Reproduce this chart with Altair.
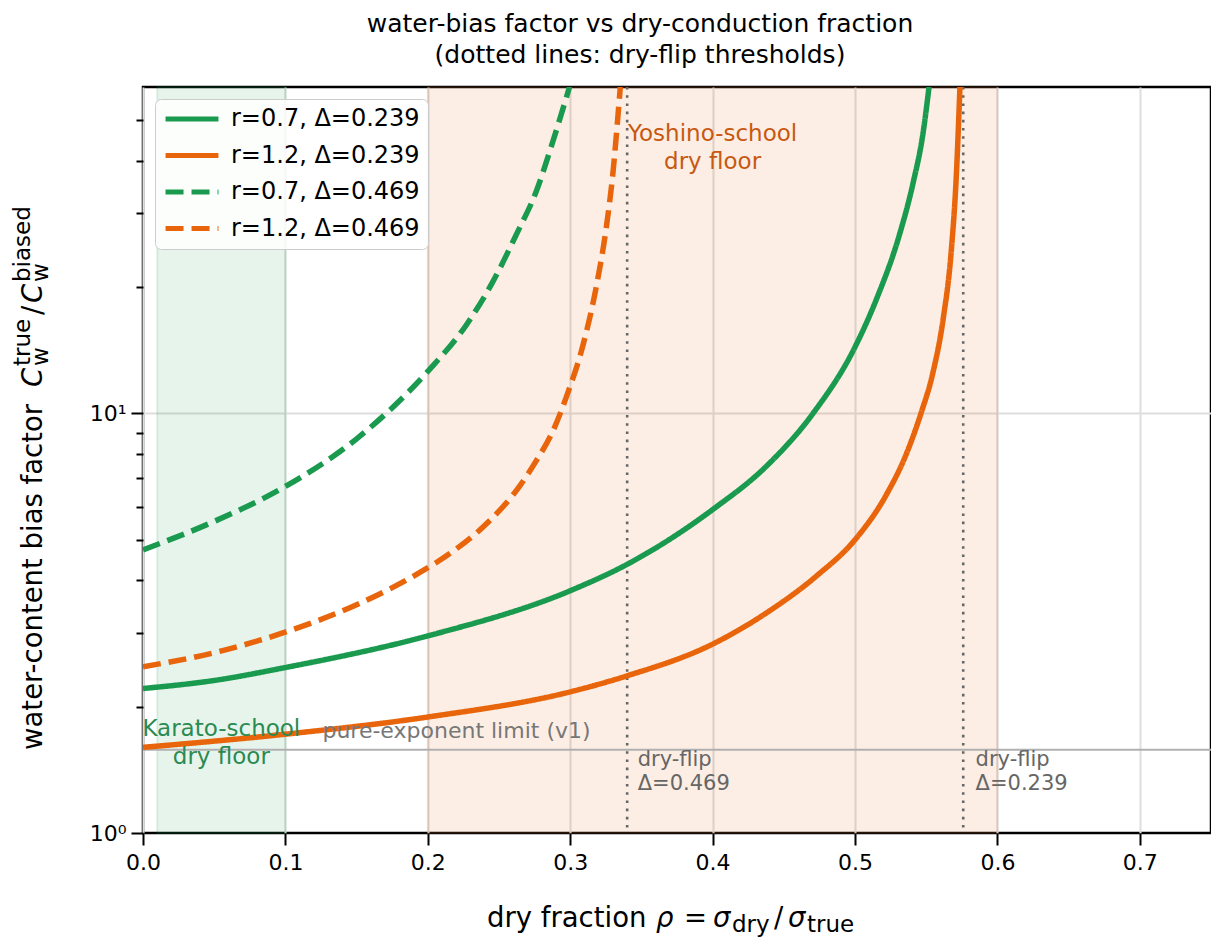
import altair as alt
import pandas as pd

FONT = "DejaVu Sans"
GREEN = "#1a9a4f"
ORANGE = "#e8650c"

# ---- curve data: dry fraction rho vs water-content bias factor ----
series_names = ["r=0.7, Δ=0.239", "r=1.2, Δ=0.239", "r=0.7, Δ=0.469", "r=1.2, Δ=0.469"]

rho_g_239 = [0.0, 0.05, 0.10, 0.20, 0.30, 0.34, 0.40, 0.438, 0.4705, 0.50, 0.515,
             0.5314, 0.5406, 0.5477, 0.552]
val_g_239 = [2.21, 2.31, 2.48, 2.95, 3.78, 4.37, 5.9, 7.5, 10.0, 14.4, 18.7,
             26.8, 35.2, 46.4, 60.0]

rho_o_239 = [0.0, 0.10, 0.20, 0.30, 0.34, 0.40, 0.438, 0.473, 0.50, 0.522, 0.536,
             0.5463, 0.5547, 0.5618, 0.5676, 0.5711, 0.5737]
val_o_239 = [1.60, 1.72, 1.89, 2.17, 2.37, 2.82, 3.35, 4.1, 5.0, 6.4, 8.0,
             10.0, 12.5, 16.7, 24.4, 36.6, 60.0]

rho_g_469 = [0.0, 0.05, 0.10, 0.15, 0.20, 0.2273, 0.246, 0.2624, 0.2764, 0.288, 0.2995]
val_g_469 = [4.73, 5.53, 6.70, 8.7, 12.6, 16.3, 20.7, 26.8, 34.0, 44.7, 60.0]

rho_o_469 = [0.0, 0.05, 0.101, 0.15, 0.1945, 0.218, 0.241, 0.265, 0.276, 0.288,
             0.2975, 0.3091, 0.3185, 0.3255, 0.3302, 0.3337, 0.3352]
val_o_469 = [2.49, 2.69, 3.02, 3.50, 4.18, 4.70, 5.45, 6.75, 7.7, 9.1,
             11.0, 14.6, 20.2, 28.0, 38.0, 52.0, 60.0]

# ---- reference features ----
band_start = [0.01, 0.20]
band_end = [0.10, 0.60]
band_kind = ["Karato", "Yoshino"]
flip_rho = [0.340, 0.576]
pure_exponent_limit = 1.58

x_ticks = [0.0, 0.1, 0.2, 0.3, 0.4, 0.5, 0.6, 0.7]
y_ticks = [1, 2, 3, 4, 5, 6, 7, 8, 9, 10, 20, 30, 40, 50]

W, H = 1068, 746

rows = []
for name, xs, ys in [
    (series_names[0], rho_g_239, val_g_239),
    (series_names[1], rho_o_239, val_o_239),
    (series_names[2], rho_g_469, val_g_469),
    (series_names[3], rho_o_469, val_o_469),
]:
    for x, y in zip(xs, ys):
        rows.append({"series": name, "rho": x, "val": y})
curves = pd.DataFrame(rows)

bands = pd.DataFrame({"start": band_start, "end": band_end, "kind": band_kind})
flips = pd.DataFrame({"rho": flip_rho})

x_scale = alt.Scale(domain=[0, 0.75], nice=False, zero=False)
y_scale = alt.Scale(type="log", domain=[1, 60], nice=False)

x_axis = alt.Axis(
    values=x_ticks, format=".1f", title=None, domain=False, orient="bottom",
    labelFont=FONT, labelFontSize=22, labelColor="black", labelPadding=7,
    labelBaseline="top", labelFlush=False, labelOverlap=False,
    ticks=True, tickSize=12, tickWidth=2, tickColor="black",
    grid=True, gridColor="#dedede", gridWidth=2,
)
y_axis = alt.Axis(
    values=y_ticks, title=None, domain=False, orient="left",
    labelExpr="datum.value == 1 ? '10⁰' : (datum.value == 10 ? '10¹' : '')",
    labelFont=FONT, labelFontSize=22, labelColor="black", labelPadding=5,
    labelFlush=False, labelOverlap=False,
    tickSize={"condition": {"test": "datum.value == 1 || datum.value == 10", "value": 12}, "value": 7},
    tickWidth=2, tickColor="black",
    grid=True, gridColor="#dedede", gridWidth=2,
    gridOpacity={"condition": {"test": "datum.value == 10", "value": 1}, "value": 0},
)

# shaded "dry floor" ranges
band_layer = alt.Chart(bands).mark_rect(fillOpacity=0.11, strokeOpacity=0.13, strokeWidth=2).encode(
    x=alt.X("start:Q", scale=x_scale, axis=x_axis),
    x2="end:Q",
    y=alt.datum(1.0, scale=y_scale, axis=y_axis),
    y2=alt.datum(60.0),
    fill=alt.Fill("kind:N", scale=alt.Scale(domain=band_kind, range=[GREEN, ORANGE]), legend=None),
    stroke=alt.Stroke("kind:N", scale=alt.Scale(domain=band_kind, range=[GREEN, "#a0603a"]), legend=None),
)

limit_layer = alt.Chart(pd.DataFrame({"v": [pure_exponent_limit]})).mark_rule(
    color="#b0b0b0", strokeWidth=2
).encode(y=alt.Y("v:Q", scale=y_scale, axis=y_axis))

flip_layer = alt.Chart(flips).mark_rule(
    color="#666666", strokeWidth=2.6, strokeDash=[2.6, 5.6]
).encode(x=alt.X("rho:Q", scale=x_scale, axis=x_axis))

legend = alt.Legend(
    orient="none", legendX=12, legendY=12, title=None,
    symbolType="stroke", symbolSize=2800, symbolStrokeWidth=5,
    labelFont=FONT, labelFontSize=24, labelColor="black", labelOffset=10, labelLimit=500,
    clipHeight=24, rowPadding=12.5, padding=8, fillColor="rgba(255,255,255,0.85)",
    strokeColor="#cccccc", cornerRadius=6,
)

line_layer = alt.Chart(curves).mark_line(clip=True, strokeWidth=5.5, interpolate="monotone").encode(
    x=alt.X("rho:Q", scale=x_scale, axis=x_axis),
    y=alt.Y("val:Q", scale=y_scale, axis=y_axis),
    color=alt.Color("series:N", scale=alt.Scale(domain=series_names, range=[GREEN, ORANGE, GREEN, ORANGE]),
                    legend=legend),
    strokeDash=alt.StrokeDash("series:N",
                              scale=alt.Scale(domain=series_names,
                                              range=[[1, 0], [1, 0], [18, 8], [18, 8]]),
                              legend=legend),
)


def note(text, rho, val, color, size, align="left"):
    return alt.Chart(pd.DataFrame({"rho": [rho], "val": [val]})).mark_text(
        text=text, font=FONT, fontSize=size, color=color, align=align, baseline="middle"
    ).encode(
        x=alt.X("rho:Q", scale=x_scale, axis=x_axis),
        y=alt.Y("val:Q", scale=y_scale, axis=y_axis),
    )


notes = [
    note("Karato-school", 0.055, 1.767, "#2a8a52", 23, "center"),
    note("dry floor", 0.055, 1.515, "#2a8a52", 23, "center"),
    note("Yoshino-school", 0.40, 46.4, "#c8580f", 23, "center"),
    note("dry floor", 0.40, 39.8, "#c8580f", 23, "center"),
    note("pure-exponent limit (v1)", 0.126, 1.748, "#777777", 22),
    note("dry-flip", 0.3474, 1.490, "#666666", 21),
    note("Δ=0.469", 0.3474, 1.306, "#666666", 21),
    note("dry-flip", 0.5847, 1.490, "#666666", 21),
    note("Δ=0.239", 0.5847, 1.306, "#666666", 21),
]

_anchor = pd.DataFrame({"k": [0]})


def piece(text, x, y, size, italic=False, angle=None):
    kw = dict(text=text, font=FONT, fontSize=size, align="left", baseline="alphabetic", color="black")
    if italic:
        kw["fontStyle"] = "italic"
    if angle is not None:
        kw["angle"] = angle
    return alt.Chart(_anchor).mark_text(**kw).encode(x=alt.value(x), y=alt.value(y))


# axis titles with math-style sub/superscripts
MAIN, SUB = 27.5, 23
XB = 840
x_title = [
    piece("dry fraction", 344, XB, MAIN),
    piece("ρ", 513, XB, MAIN, italic=True),
    piece("=", 541, XB, MAIN),
    piece("σ", 570, XB, MAIN, italic=True),
    piece("dry", 589, XB + 5, SUB),
    piece("/", 631, XB, MAIN),
    piece("σ", 645, XB, MAIN, italic=True),
    piece("true", 664, XB + 5, SUB),
]

YB = -101
y_title = [
    piece("water-content bias factor", YB, 663, MAIN, angle=270),
    piece("C", YB, 300, MAIN, italic=True, angle=270),
    piece("true", YB - 12, 279, SUB, angle=270),
    piece("w", YB + 6, 279, SUB, angle=270),
    piece("/", YB, 228, MAIN, angle=270),
    piece("C", YB, 216, MAIN, italic=True, angle=270),
    piece("biased", YB - 12, 195, SUB, angle=270),
    piece("w", YB + 6, 195, SUB, angle=270),
]

chart = alt.layer(
    band_layer, limit_layer, flip_layer, line_layer, *notes, *x_title, *y_title
).properties(
    width=W, height=H,
    background="white",
    title=alt.TitleParams(
        text=["water-bias factor vs dry-conduction fraction", "(dotted lines: dry-flip thresholds)"],
        font=FONT, fontSize=25, fontWeight="normal", color="black",
        anchor="middle", dx=-37, offset=18, lineHeight=31,
    ),
    autosize=alt.AutoSizeParams(type="none"),
    padding={"left": 143, "top": 87, "right": 0, "bottom": 108},
).configure_view(
    stroke="black", strokeWidth=2.5
)

chart.save("out.html", embed_options={"renderer": "svg", "actions": False})
